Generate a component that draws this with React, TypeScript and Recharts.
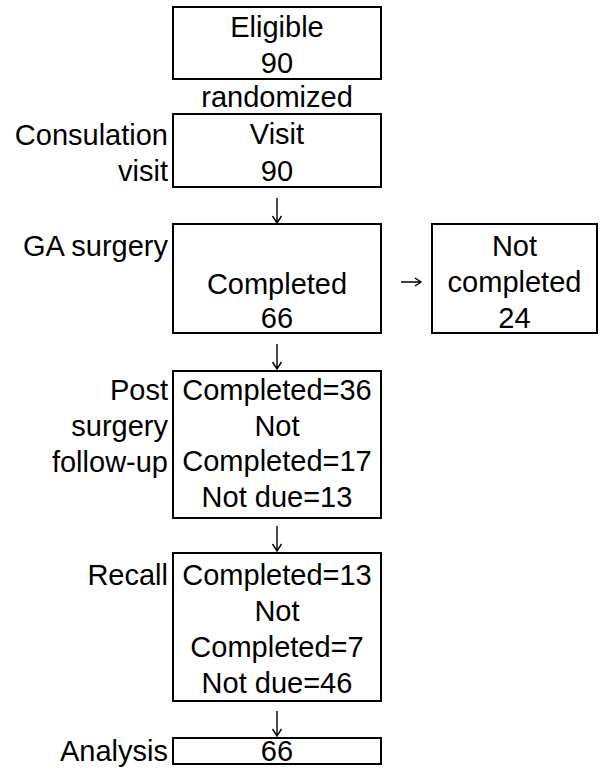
import {
  ScatterChart,
  Scatter,
  XAxis,
  YAxis,
  ReferenceArea,
} from "recharts";

// Flow counts
const eligibleCount = 90;
const visitCount = 90;
const surgeryCompleted = 66;
const surgeryNotCompleted = 24;
const followUpCounts = [36, 17, 13]; // completed, not completed, not due
const recallCounts = [13, 7, 46]; // completed, not completed, not due
const analysisCount = 66;

// Stage labels on the left
const stageLabels = [
  ["Consulation", "visit"],
  ["GA surgery"],
  ["Post", "surgery", "follow-up"],
  ["Recall"],
  ["Analysis"],
];

// Box contents (text only)
const boxLines = [
  ["Eligible", `${eligibleCount}`],
  ["Visit", `${visitCount}`],
  ["Completed", `${surgeryCompleted}`],
  ["Not", "completed", `${surgeryNotCompleted}`],
  [
    `Completed=${followUpCounts[0]}`,
    "Not",
    `Completed=${followUpCounts[1]}`,
    `Not due=${followUpCounts[2]}`,
  ],
  [
    `Completed=${recallCounts[0]}`,
    "Not",
    `Completed=${recallCounts[1]}`,
    `Not due=${recallCounts[2]}`,
  ],
  [`${analysisCount}`],
];

const W = 602;
const H = 776;
const FONT = '"Liberation Sans", Arial, sans-serif';
const FS = 29;

// layout: box frames (x1, x2, y1, y2) and first baseline, in page units
const boxLayout = [
  { x1: 173, x2: 381, y1: 7, y2: 79, first: 37, step: 36 },
  { x1: 173, x2: 381, y1: 114, y2: 187, first: 144, step: 37 },
  { x1: 173, x2: 381, y1: 224, y2: 333, first: 294, step: 34 },
  { x1: 432, x2: 597, y1: 224, y2: 333, first: 256, step: 36 },
  { x1: 173, x2: 381, y1: 371, y2: 518, first: 400, step: 35.7 },
  { x1: 173, x2: 381, y1: 553, y2: 701, first: 585, step: 36 },
  { x1: 173, x2: 381, y1: 738, y2: 764, first: 761, step: 36 },
];

const labelLayout = [
  { first: 145, step: 36 },
  { first: 256, step: 36 },
  { first: 400, step: 36 },
  { first: 585, step: 36 },
  { first: 761, step: 36 },
];

// arrow tips
const arrowLayout = [
  { x: 277, y: 223, dir: "down" },
  { x: 277, y: 369, dir: "down" },
  { x: 277, y: 551, dir: "down" },
  { x: 277, y: 736, dir: "down" },
  { x: 421, y: 282, dir: "right" },
];

const boxTextData = boxLines.flatMap((lines, i) => {
  const b = boxLayout[i];
  return lines.map((t, j) => ({
    x: (b.x1 + b.x2) / 2,
    y: b.first + j * b.step,
    text: t,
  }));
});
boxTextData.push({ x: 277, y: 107, text: "randomized" });

const labelData = stageLabels.flatMap((lines, i) =>
  lines.map((t, j) => ({
    x: 168,
    y: labelLayout[i].first + j * labelLayout[i].step,
    text: t,
  }))
);

const textShape = (anchor: string) => (props: any) => (
  <text
    x={props.cx}
    y={props.cy}
    textAnchor={anchor}
    fontFamily={FONT}
    fontSize={FS}
    fill="#000"
  >
    {props.payload.text}
  </text>
);

// thin arrow like the ↓ / → glyph
const arrowShape = (props: any) => {
  const { cx, cy, payload } = props;
  const d =
    payload.dir === "down"
      ? `M${cx},${cy - 25} L${cx},${cy} M${cx - 4.5},${cy - 7} L${cx},${cy} L${cx + 4.5},${cy - 7}`
      : `M${cx - 20},${cy} L${cx},${cy} M${cx - 6},${cy - 4} L${cx},${cy} L${cx - 6},${cy + 4}`;
  return <path d={d} stroke="#000" strokeWidth={1.4} fill="none" />;
};

export default function App() {
  return (
    <div style={{ position: "absolute", left: 0, top: 0, background: "#fff" }}>
      <ScatterChart
        width={W}
        height={H}
        margin={{ top: 0, right: 0, bottom: 0, left: 0 }}
      >
        <XAxis
          type="number"
          dataKey="x"
          domain={[0, W]}
          allowDataOverflow
          hide
        />
        <YAxis
          type="number"
          dataKey="y"
          domain={[0, H]}
          reversed
          allowDataOverflow
          hide
          width={0}
        />
        {boxLayout.map((b, i) => (
          <ReferenceArea
            key={`box-${i}`}
            x1={b.x1}
            x2={b.x2}
            y1={b.y1}
            y2={b.y2}
            fill="#fff"
            fillOpacity={1}
            stroke="#000"
            strokeWidth={2}
            ifOverflow="visible"
          />
        ))}
        <Scatter
          data={boxTextData}
          shape={textShape("middle")}
          isAnimationActive={false}
        />
        <Scatter
          data={labelData}
          shape={textShape("end")}
          isAnimationActive={false}
        />
        <Scatter
          data={arrowLayout}
          shape={arrowShape}
          isAnimationActive={false}
        />
      </ScatterChart>
    </div>
  );
}
